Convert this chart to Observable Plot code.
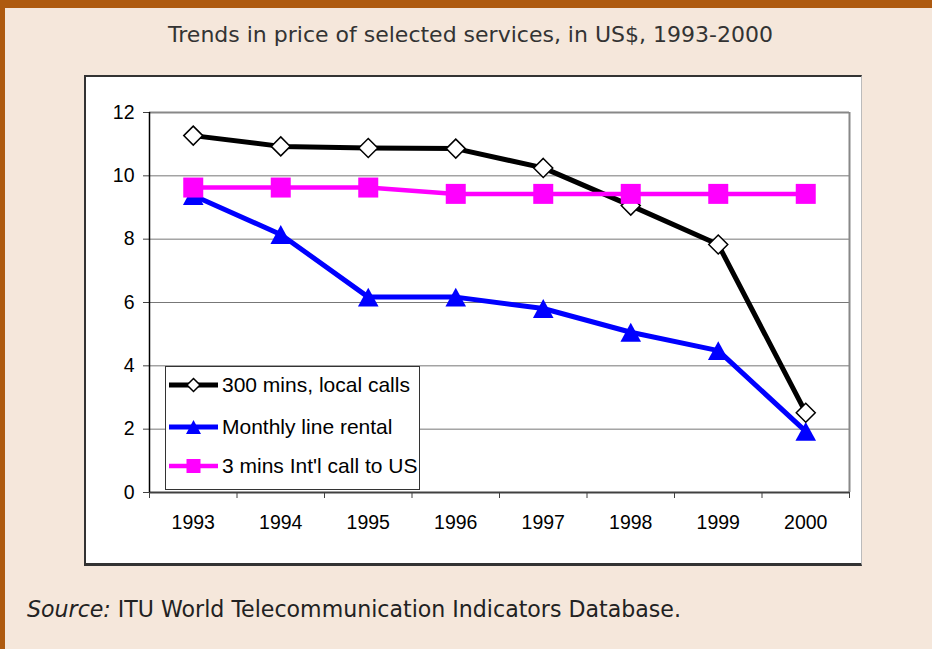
<!DOCTYPE html>
<html><head><meta charset="utf-8">
<script src="https://cdn.jsdelivr.net/npm/d3@7"></script>
<script src="https://cdn.jsdelivr.net/npm/@observablehq/plot@0.6"></script>
<style>
html,body{margin:0;padding:0}
body{width:932px;height:649px;background:#f5e7db;position:relative;overflow:hidden}
#topbar{position:absolute;left:0;top:0;width:932px;height:8px;background:#ae5a0f}
#leftbar{position:absolute;left:0;top:0;width:5px;height:649px;background:#ae5a0f}
#title{position:absolute;left:0;width:941px;top:24px;text-align:center;font-family:"DejaVu Sans";font-size:22px;line-height:22px;color:#333;white-space:nowrap}
#caption{position:absolute;left:27px;top:598px;font-family:"DejaVu Sans";font-size:22.1px;line-height:22px;color:#222;white-space:nowrap}
#box{position:absolute;left:84px;top:75px;width:778px;height:491px;box-sizing:border-box;background:#fff;border-top:2px solid #333;border-left:2px solid #333;border-bottom:3px solid #333;border-right:1px solid #bbb}
#box svg{display:block}
#legend{position:absolute;left:165px;top:366px;width:255px;height:124px;box-sizing:border-box;background:#fff;border:1px solid #333}
#legend svg{display:block}
</style>
</head><body>
<div id="topbar"></div><div id="leftbar"></div>
<div id="title"></div>
<div id="box"></div>
<div id="legend"></div>
<div id="caption"></div>
<script>
const years = [1993, 1994, 1995, 1996, 1997, 1998, 1999, 2000];
const localCalls = [11.27, 10.93, 10.88, 10.86, 10.25, 9.06, 7.83, 2.52];
const lineRental = [9.38, 8.15, 6.17, 6.17, 5.81, 5.06, 4.48, 1.93];
const intlCall = [9.63, 9.63, 9.63, 9.43, 9.43, 9.43, 9.43, 9.43];
const yTicks = [0, 2, 4, 6, 8, 10, 12];
const seriesNames = ["300 mins, local calls", "Monthly line rental", "3 mins Int'l call to US"];
const titleText = "Trends in price of selected services, in US$, 1993-2000";
const sourceLabel = "Source:";
const sourceText = " ITU World Telecommunication Indicators Database.";

document.getElementById("title").textContent = titleText;
const cap = document.getElementById("caption");
const em = document.createElement("i"); em.textContent = sourceLabel;
cap.appendChild(em); cap.appendChild(document.createTextNode(sourceText));

const diamond = {draw(ctx, size) {const r = Math.sqrt(size / Math.PI); ctx.moveTo(0, -r); ctx.lineTo(r, 0); ctx.lineTo(0, r); ctx.lineTo(-r, 0); ctx.closePath();}};
const triangle = {draw(ctx, size) {const r = Math.sqrt(size / Math.PI); const h = r * 0.92; ctx.moveTo(0, -h); ctx.lineTo(r, h); ctx.lineTo(-r, h); ctx.closePath();}};
const square = {draw(ctx, size) {const r = Math.sqrt(size / Math.PI); ctx.moveTo(-r, -r); ctx.lineTo(r, -r); ctx.lineTo(r, r); ctx.lineTo(-r, r); ctx.closePath();}};

const series = [
  {name: seriesNames[0], values: localCalls, stroke: "#000000", width: 5, symbol: diamond, r: 9.5, fill: "#ffffff", mstroke: "#000000", msw: 1.5, lr: 6.5},
  {name: seriesNames[1], values: lineRental, stroke: "#0000ff", width: 5, symbol: triangle, r: 10.3, fill: "#0000ff", mstroke: "none", msw: 0, lr: 7.5},
  {name: seriesNames[2], values: intlCall, stroke: "#ff00ff", width: 4.5, symbol: square, r: 10, fill: "#ff00ff", mstroke: "none", msw: 0, lr: 7}
];

const xDomain = [years[0] - 0.5, years[years.length - 1] + 0.5];
const boundaries = years.map(y => y - 0.5).concat([xDomain[1]]);
const font = "Liberation Sans, Arial, sans-serif";

const seriesMarks = [1, 0, 2].flatMap(k => {
  const s = series[k];
  const rows = years.map((year, i) => ({year, value: s.values[i]}));
  return [
    Plot.line(rows, {x: "year", y: "value", stroke: s.stroke, strokeWidth: s.width, strokeLinejoin: "round"}),
    Plot.dot(rows, {x: "year", y: "value", symbol: s.symbol, r: s.r, fill: s.fill, stroke: s.mstroke, strokeWidth: s.msw})
  ];
});

const chart = Plot.plot({
  width: 775, height: 486,
  marginLeft: 63, marginRight: 12, marginTop: 35, marginBottom: 71,
  style: {background: "#fff", fontFamily: font, fontSize: "19.5px", color: "#000", overflow: "visible"},
  x: {type: "linear", domain: xDomain, label: null},
  y: {domain: [yTicks[0], yTicks[yTicks.length - 1]], label: null},
  marks: [
    Plot.ruleY(yTicks.slice(1, -1), {stroke: "#777", strokeWidth: 1}),
    Plot.ruleY(yTicks.slice(-1), {stroke: "#888", strokeWidth: 2}),
    Plot.ruleX([xDomain[1]], {stroke: "#888", strokeWidth: 2}),
    Plot.axisY(yTicks, {tickSize: 6, tickPadding: 9, fontSize: 19.5, fontFamily: font, color: "#000", stroke: "#404040", label: null}),
    Plot.axisX(years, {tickSize: 0, tickPadding: 23, fontSize: 19.5, fontFamily: font, color: "#000", tickFormat: d => String(d), label: null}),
    Plot.axisX(boundaries, {tickSize: 6, tickFormat: () => "", stroke: "#404040", label: null}),
    Plot.ruleY([yTicks[0]], {stroke: "#404040", strokeWidth: 2}),
    Plot.ruleX([xDomain[0]], {stroke: "#000", strokeWidth: 1.5}),
    ...seriesMarks
  ]
});
document.getElementById("box").appendChild(chart);

// legend
const rowsY = [18, 60, 99];
const lsvg = d3.select("#legend").append("svg").attr("width", 253).attr("height", 122);
series.forEach((s, i) => {
  const g = lsvg.append("g").attr("transform", `translate(0,${rowsY[i]})`);
  g.append("line").attr("x1", 3).attr("x2", 52).attr("y1", 0).attr("y2", 0)
    .attr("stroke", s.stroke).attr("stroke-width", s.width);
  const p = d3.path(); s.symbol.draw(p, s.lr * s.lr * Math.PI);
  g.append("path").attr("d", p.toString()).attr("transform", "translate(27.5,0)")
    .attr("fill", s.fill).attr("stroke", s.mstroke).attr("stroke-width", s.msw);
  g.append("text").attr("x", 56).attr("y", 7.4).attr("font-family", font).attr("font-size", 21)
    .attr("fill", "#000").text(s.name);
});
</script>
</body></html>
